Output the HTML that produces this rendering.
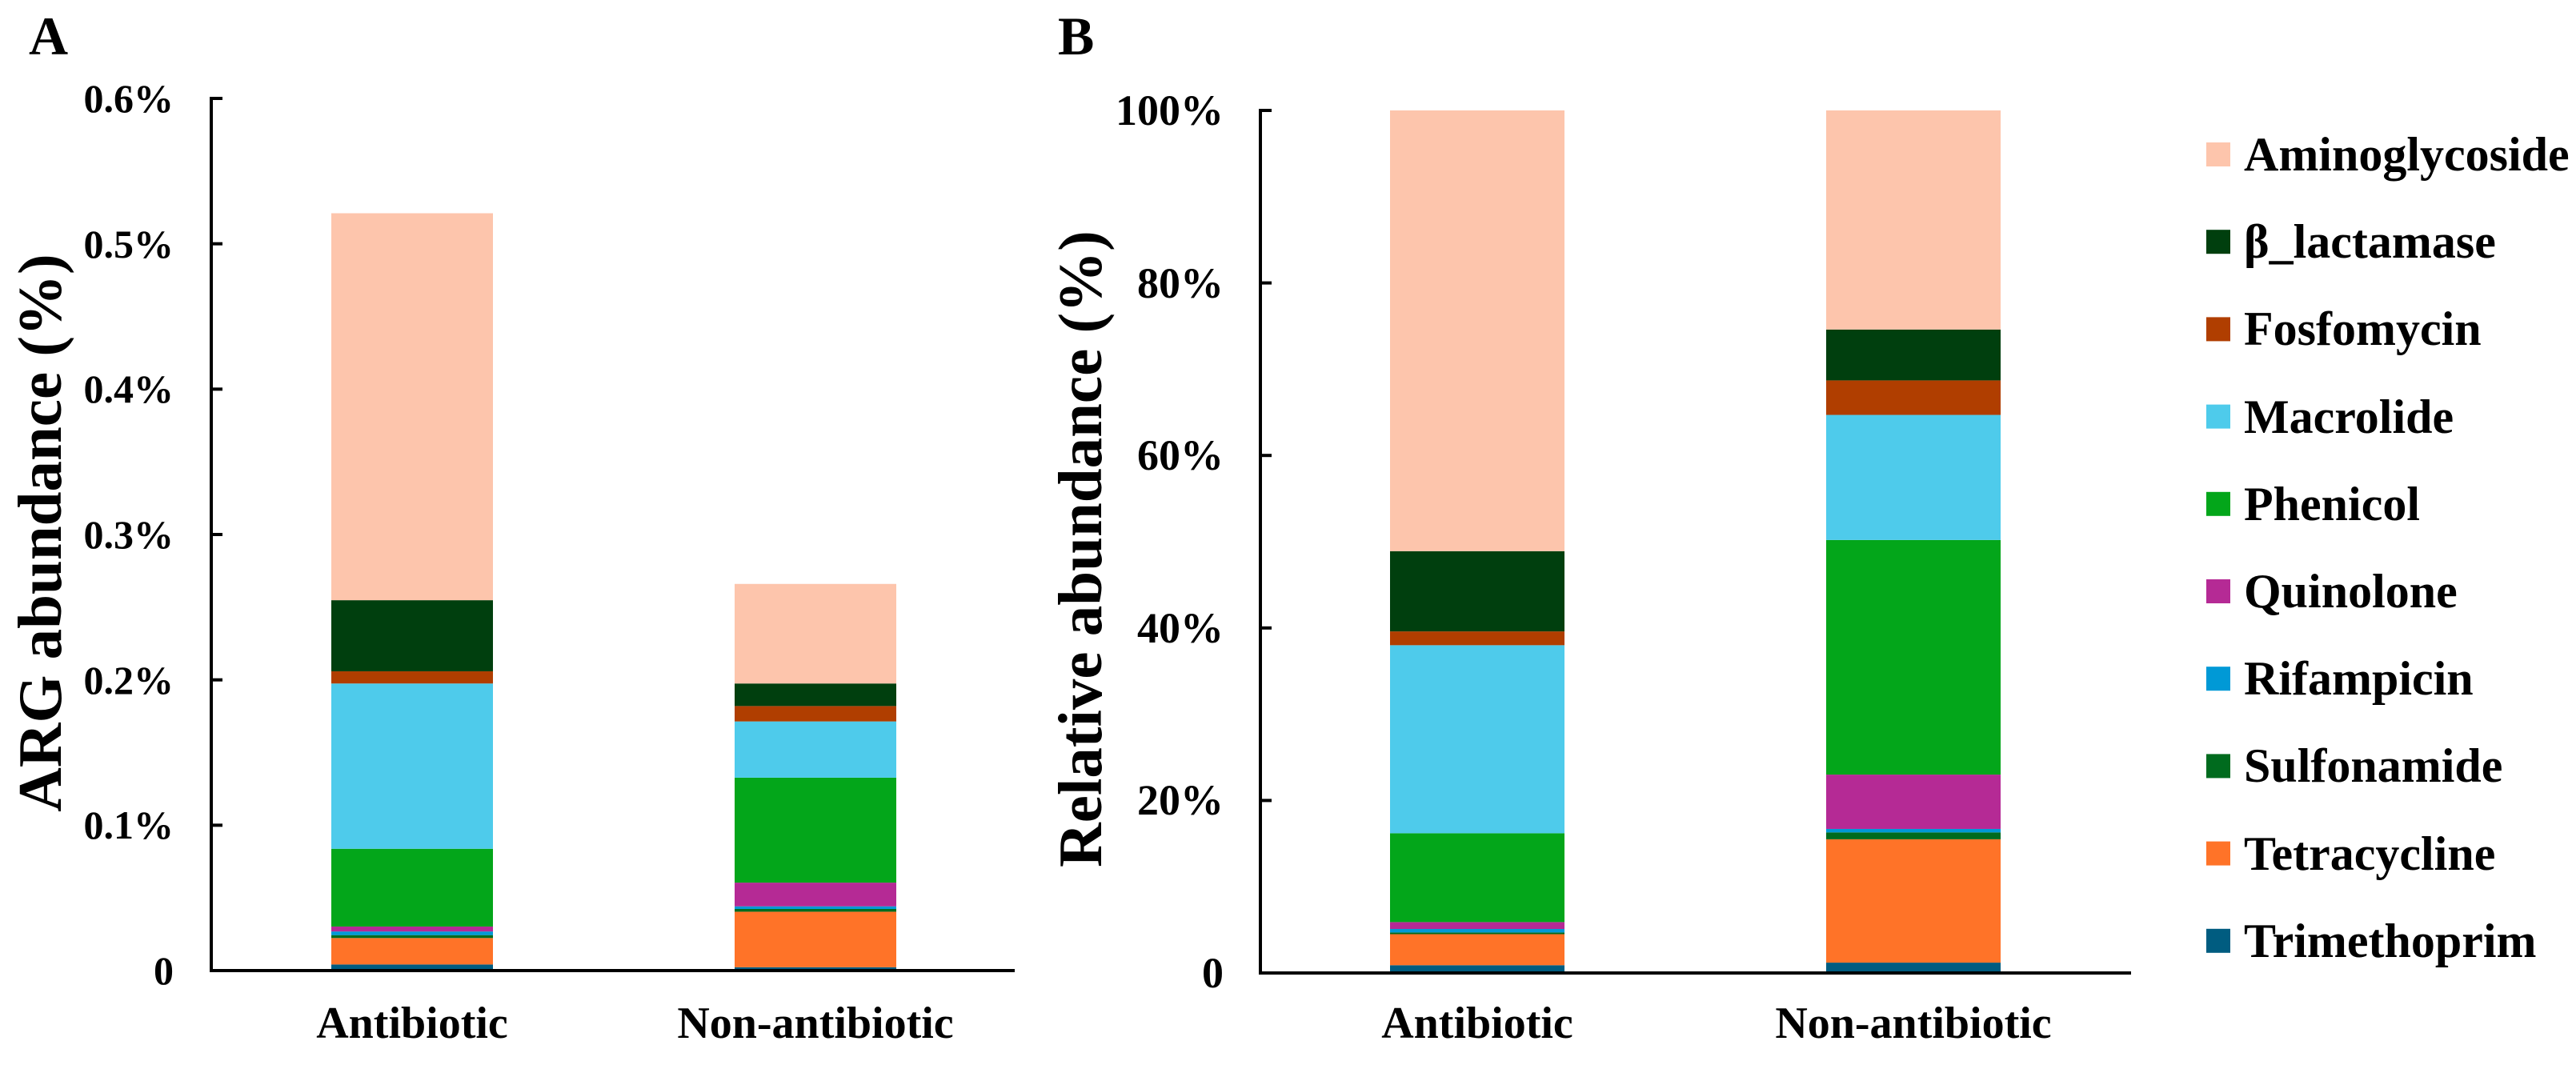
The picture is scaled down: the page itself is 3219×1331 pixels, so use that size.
<!DOCTYPE html>
<html><head><meta charset="utf-8"><style>
html,body{margin:0;padding:0;background:#fff;}
text{font-family:"Liberation Serif","Times New Roman",serif;font-weight:700;fill:#000;}
</style></head><body>
<svg id="chart" width="3219" height="1326" viewBox="0 0 3219 1326" xmlns="http://www.w3.org/2000/svg">
<text x="36" y="68" font-size="68">A</text>
<text x="1322" y="68" font-size="68">B</text>
<text transform="translate(76,666) rotate(-90)" text-anchor="middle" font-size="77">ARG abundance (%)</text>
<text transform="translate(1376,686) rotate(-90)" text-anchor="middle" font-size="77">Relative abundance (%)</text>
<g text-anchor="end" font-size="50">
<text x="217" y="1230">0</text>
<text x="217" y="1048">0.1%</text>
<text x="217" y="867">0.2%</text>
<text x="217" y="685">0.3%</text>
<text x="217" y="503">0.4%</text>
<text x="217" y="322">0.5%</text>
<text x="217" y="140">0.6%</text>
</g>
<g text-anchor="end" font-size="54">
<text x="1529" y="1234">0</text>
<text x="1529" y="1018">20%</text>
<text x="1529" y="803">40%</text>
<text x="1529" y="587">60%</text>
<text x="1529" y="372">80%</text>
<text x="1529" y="156">100%</text>
</g>
<g text-anchor="middle" font-size="56">
<text x="515" y="1297">Antibiotic</text>
<text x="1019" y="1297">Non-antibiotic</text>
<text x="1846" y="1297">Antibiotic</text>
<text x="2391" y="1297">Non-antibiotic</text>
</g>
<g id="ga"></g><g id="gb"></g><g id="legend"></g>
<g font-size="60">
<text x="2804" y="213">Aminoglycoside</text>
<text x="2804" y="322">β_lactamase</text>
<text x="2804" y="431">Fosfomycin</text>
<text x="2804" y="541">Macrolide</text>
<text x="2804" y="650">Phenicol</text>
<text x="2804" y="759">Quinolone</text>
<text x="2804" y="868">Rifampicin</text>
<text x="2804" y="977">Sulfonamide</text>
<text x="2804" y="1087">Tetracycline</text>
<text x="2804" y="1196">Trimethoprim</text>
</g>
</svg>
<script>
const categories = ["Antibiotic","Non-antibiotic"];
const classes = ["Trimethoprim","Tetracycline","Sulfonamide","Rifampicin","Quinolone","Phenicol","Macrolide","Fosfomycin","β_lactamase","Aminoglycoside"];
const colors = ["#005C80","#FF7328","#006B1E","#0099D6","#B52A95","#03A61A","#4ECBEB","#B03E00","#003F0E","#FDC5AC"];
// Panel A: absolute abundance (%)
const absAntibiotic = [0.0042,0.0182,0.0020,0.0025,0.0034,0.0535,0.1137,0.0084,0.0489,0.2662];
const absNonAntibiotic = [0.0023,0.0382,0.0019,0.0018,0.0163,0.0722,0.0387,0.0106,0.0155,0.0685];
const absTicks = [0,0.1,0.2,0.3,0.4,0.5,0.6];
// Panel B: relative abundance (%)
const relAntibiotic = [0.9,3.6,0.2,0.4,0.8,10.3,21.8,1.6,9.3,51.1];
const relNonAntibiotic = [1.2,14.3,0.8,0.4,6.3,27.2,14.5,4.0,5.9,25.4];
const relTicks = [0,20,40,60,80,100];

const NS="http://www.w3.org/2000/svg";
function mk(parent,tag,attrs){const e=document.createElementNS(NS,tag);for(const k in attrs)e.setAttribute(k,attrs[k]);parent.appendChild(e);return e;}

function panel(g,cfg){
  const y=v=>cfg.y0-(v/cfg.max)*(cfg.y0-cfg.yTop);
  cfg.series.forEach((vals,ci)=>{
    let acc=0;
    vals.forEach((v,si)=>{
      const r=mk(g,'rect',{x:cfg.barX[ci],y:y(acc+v),width:cfg.barW,height:y(acc)-y(acc+v),fill:colors[si]});
      
      
      acc+=v;
    });
  });
  const ya=mk(g,'line',{x1:cfg.ax,y1:cfg.yTop-2,x2:cfg.ax,y2:cfg.y0+2,stroke:'#000','stroke-width':4});
  
  
  const xa=mk(g,'line',{x1:cfg.ax-2,y1:cfg.y0,x2:cfg.axEnd,y2:cfg.y0,stroke:'#000','stroke-width':4});
  
  
  cfg.ticks.forEach(tv=>{
    const tk=mk(g,'line',{x1:cfg.ax,y1:y(tv),x2:cfg.ax+14,y2:y(tv),stroke:'#000','stroke-width':4});
    
    
  });
}
panel(document.getElementById('ga'),{series:[absAntibiotic,absNonAntibiotic],max:0.6,y0:1213,yTop:123,barX:[414,918],barW:202,ax:264,axEnd:1268,ticks:absTicks});
panel(document.getElementById('gb'),{series:[relAntibiotic,relNonAntibiotic],max:100,y0:1216,yTop:138,barX:[1737,2282],barW:218,ax:1575,axEnd:2663,ticks:relTicks});

const lg=document.getElementById('legend');
for(let i=0;i<classes.length;i++){
  const si=classes.length-1-i;
  const cy=193+i*109.2;
  const sq=mk(lg,'rect',{x:2757,y:cy-15,width:30,height:30,fill:colors[si]});
  
  
}
</script>
</body></html>
